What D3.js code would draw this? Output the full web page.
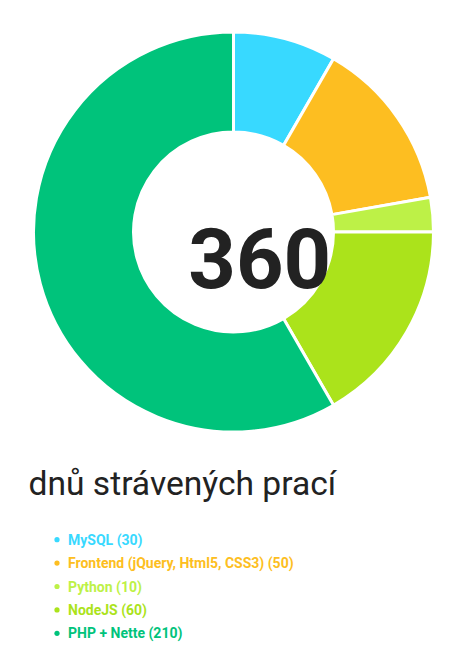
<!DOCTYPE html>
<html>
<head>
<meta charset="utf-8">
<script src="https://cdn.jsdelivr.net/npm/d3@7"></script>
<style>
  html, body { margin: 0; padding: 0; background: #fff; }
  svg { display: block; }
</style>
</head>
<body>
<svg id="chart" width="468" height="667"></svg>
<script>
const categories = ["MySQL", "Frontend (jQuery, Html5, CSS3)", "Python", "NodeJS", "PHP + Nette"];
const values = [30, 50, 10, 60, 210];
const colors = ["#38d9ff", "#fdbe21", "#bdf147", "#abe31b", "#00c37b"];
const title = "dnů strávených prací";

const svg = d3.select("#chart");
const cx = 233.5, cy = 232;
const outerR = 200, innerR = 100;

const pie = d3.pie().sort(null).value(d => d)(values);
const arc = d3.arc().innerRadius(innerR).outerRadius(outerR);

const g = svg.append("g").attr("transform", `translate(${cx},${cy})`);
g.selectAll("path").data(pie).join("path")
  .attr("d", arc)
  .attr("fill", (d, i) => colors[i])
  .attr("stroke", "#fff")
  .attr("stroke-width", 3);

svg.append("text")
  .attr("x", 259.7).attr("y", 288)
  .attr("text-anchor", "middle")
  .attr("font-family", "Roboto")
  .attr("font-weight", 700)
  .attr("font-size", 83)
  .attr("fill", "#222")
  .text(d3.sum(values));

svg.append("text")
  .attr("x", 28.5).attr("y", 495)
  .attr("font-family", "Roboto")
  .attr("font-weight", 400)
  .attr("font-size", 33.6)
  .attr("fill", "#222")
  .text(title);

const y = d3.scaleBand().domain(categories).range([528, 645]);
const leg = svg.append("g");
const rows = leg.selectAll("g").data(categories).join("g")
  .attr("transform", d => `translate(0,${y(d) + y.bandwidth() / 2})`);
rows.append("circle").attr("cx", 57).attr("cy", 0).attr("r", 2.6)
  .attr("fill", (d, i) => colors[i]);
rows.append("text").attr("x", 68).attr("y", 5)
  .attr("font-family", "Roboto").attr("font-weight", 700).attr("font-size", 14)
  .attr("fill", (d, i) => colors[i])
  .text((d, i) => `${d} (${values[i]})`);
</script>
</body>
</html>
